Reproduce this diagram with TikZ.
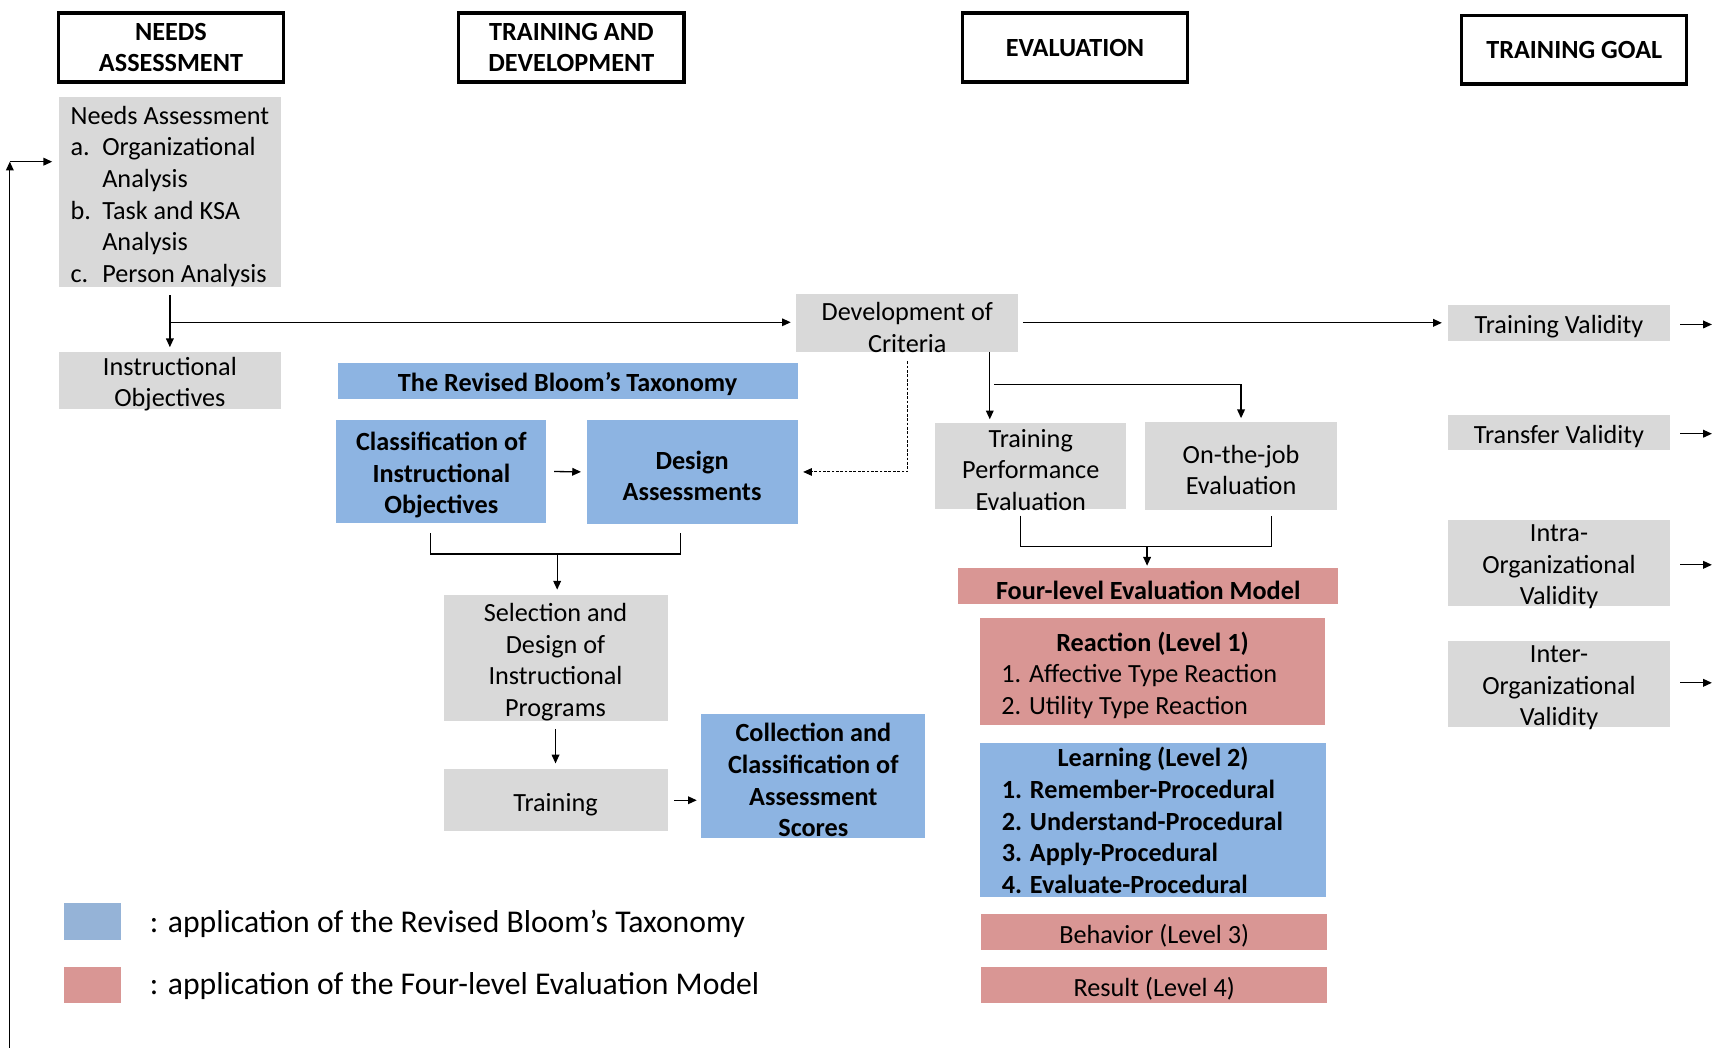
\documentclass[tikz,border=0pt]{standalone}
\usepackage{fontspec}
\setmainfont{Carlito}
\usetikzlibrary{arrows.meta}
\definecolor{boxgray}{HTML}{D9D9D9}
\definecolor{bloomblue}{HTML}{8DB4E2}
\definecolor{legendblue}{HTML}{95B3D7}
\definecolor{kirkred}{HTML}{D99694}
\newcommand{\bodyfont}{\fontsize{24}{29}\selectfont}
% tall invisible strut: sets the text of a box a little lower
\newcommand{\topstrut}{\rule{0pt}{24pt}}
\begin{document}
\begin{tikzpicture}[x=1pt,y=-1pt,
  every node/.style={inner sep=0pt, font=\bodyfont},
  lowered/.style={execute at begin node={\topstrut}},
  % text laid over a tightly fitted box, so that the box keeps its size
  overtext/.style={label={[align=center, yshift=-3.5pt]center:#1}},
  hdr/.style={draw=black, line width=3pt, fill=white, align=center,
    font=\bodyfont\bfseries, minimum width=206, minimum height=63},
  gbox/.style={fill=boxgray, align=center},
  bbox/.style={fill=bloomblue, align=center, font=\bodyfont\bfseries},
  rbox/.style={fill=kirkred, align=center},
  legtext/.style={anchor=west, font=\fontsize{29}{35}\selectfont,
    execute at begin node={\rule{0pt}{25pt}}},
  link/.style={line width=1.2pt},
  conn/.style={link, -{Triangle[length=8pt,width=7pt]}},
  dashconn/.style={conn, line width=0.9pt, dash pattern=on 2.5pt off 1.5pt},
]
\useasboundingbox (0,0) rectangle (1568,959);

% column headers
\node[hdr] (needsH) at (156.5,43.5) {NEEDS\\ASSESSMENT};
\node[hdr] (tdH)    at (523,43.5)   {TRAINING AND\\DEVELOPMENT};
\node[hdr] (evalH)  at (984,43.5) {EVALUATION};
\node[hdr] (goalH)  at (1441,45.5) {TRAINING GOAL};

% needs assessment column
\node[gbox, align=left, minimum width=203, minimum height=174] (needs) at (155.5,176)
  {\topstrut Needs Assessment\\
   \makebox[29pt][l]{a.}Organizational\\
   \hspace*{29pt}Analysis\\
   \makebox[29pt][l]{b.}Task and KSA\\
   \hspace*{29pt}Analysis\\
   \makebox[29pt][l]{c.}Person Analysis};
\node[gbox, minimum width=203, minimum height=52,
  overtext=Instructional\\Objectives] (instr) at (155.5,348) {};

% training and development column
\node[bbox, lowered, minimum width=421, minimum height=33] (bloom) at (519.5,348.5)
  {The Revised Bloom’s Taxonomy};
\node[bbox, minimum width=192, minimum height=95] (classif) at (404,431.5)
  {\topstrut Classification of\\Instructional\\Objectives};
\node[bbox, minimum width=193, minimum height=96] (design) at (633.5,432)
  {\topstrut Design\\Assessments};
\node[gbox, minimum width=205, minimum height=115] (sel) at (508.5,602.5)
  {\topstrut Selection and\\Design of\\Instructional\\Programs};
\node[gbox, lowered, minimum width=205, minimum height=57] (train) at (508.5,732.5)
  {Training};
\node[bbox, minimum width=205, minimum height=113] (collect) at (744.5,710.5)
  {\topstrut Collection and\\Classification of\\Assessment\\Scores};

% evaluation column
\node[gbox, minimum width=203, minimum height=52] (devcrit) at (830.5,296)
  {\topstrut Development of\\Criteria};
\node[gbox, minimum width=175, minimum height=79,
  overtext=Training\\Performance\\Evaluation] (tpe) at (943.5,426.5) {};
\node[gbox, minimum width=176, minimum height=81] (oje) at (1136,426.5)
  {\topstrut On-the-job\\Evaluation};
\node[rbox, lowered, font=\bodyfont\bfseries, minimum width=348, minimum height=33] (four) at (1051,536.5)
  {Four-level Evaluation Model};
\node[rbox, align=left, minimum width=316, minimum height=98] (react) at (1055,615)
  {\topstrut\makebox[277pt]{\bfseries Reaction (Level 1)}\\
   1. Affective Type Reaction\\
   2. Utility Type Reaction};
\node[bbox, align=left, minimum width=317, minimum height=141] (learn) at (1055.5,751)
  {\makebox[277pt]{Learning (Level 2)}\\
   1. Remember-Procedural\\
   2. Understand-Procedural\\
   3. Apply-Procedural\\
   4. Evaluate-Procedural};
\node[rbox, lowered, minimum width=317, minimum height=33] (behav) at (1056.5,853.5)
  {Behavior (Level 3)};
\node[rbox, lowered, minimum width=317, minimum height=33] (result) at (1056.5,901.5)
  {Result (Level 4)};

% training goal column
\node[gbox, lowered, minimum width=204, minimum height=33] (tval)  at (1427,295.5) {Training Validity};
\node[gbox, lowered, minimum width=204, minimum height=32] (trval) at (1427,396)   {Transfer Validity};
\node[gbox, minimum width=204, minimum height=79,
  overtext=Intra-\\Organizational\\Validity] (intra) at (1427,515.5) {};
\node[gbox, minimum width=204, minimum height=78,
  overtext=Inter-\\Organizational\\Validity] (inter) at (1427,626) {};

% legend
\node[fill=legendblue, minimum width=52, minimum height=33] (legB) at (85,843.5) {};
\node[fill=kirkred, minimum width=52, minimum height=33] (legR) at (85,901.5) {};
\node[legtext] (legBt) at (137,843) {: application of the Revised Bloom’s Taxonomy};
\node[legtext] (legRt) at (137,900) {: application of the Four-level Evaluation Model};

% auxiliary points for branching connectors
\coordinate (loopS) at (9,959);
\coordinate (loopN) at (9,148);
\coordinate (split) at (156,295);
\coordinate (edge) at (1567,0);
\coordinate (dcA) at (906,322);
\coordinate (dcB) at (910,352);
\coordinate (brL) at (394,488);
\coordinate (brR) at (623,488);
\coordinate (brM) at (510,507);
\coordinate (ebL) at (934,472);
\coordinate (ebR) at (1164,472);
\coordinate (ebM) at (1050,500);

% feedback loop back to needs assessment
\draw[conn] (loopS) -- (loopN);
\draw[conn, shorten >=6pt] (loopN) -- (needs.west |- loopN);

% needs assessment flow
\draw[conn, shorten <=7pt, shorten >=4pt] (needs.south) -- (instr.north);
\draw[conn, shorten >=5pt] (split) -- (devcrit.west |- split);

% development of criteria
\draw[conn, shorten <=4pt, shorten >=5pt] (devcrit.east |- tval.west) -- (tval.west);
\draw[conn, shorten >=3pt] (dcA) -- (dcA |- tpe.north);
\draw[conn, shorten >=3pt] (dcB) -- (dcB -| oje.north) -- (oje.north);
\draw[dashconn, shorten <=8pt, shorten >=5pt] (devcrit.south) -- (devcrit.south |- design.east) -- (design.east);

% training and development flow
\draw[conn, shorten <=7pt, shorten >=5pt] (classif.east) -- (design.west);
\draw[link] (brL) -- (brL |- brM) -- (brR |- brM) -- (brR);
\draw[conn, shorten >=5pt] (brM) -- (brM |- sel.north);
\draw[conn, shorten <=7pt, shorten >=5pt] (sel.south) -- (train.north);
\draw[conn, shorten <=6pt, shorten >=4pt] (train.east) -- (train.east -| collect.west);

% evaluation results into the four-level model
\draw[link] (ebL) -- (ebL |- ebM) -- (ebR |- ebM) -- (ebR);
\draw[conn, shorten >=2pt] (ebM) -- (ebM |- four.north);

% training goals pointing onward
\draw[conn, shorten <=9pt] ([yshift=-1.5pt]tval.east) -- ([yshift=-1.5pt]tval.east -| edge);
\draw[conn, shorten <=9pt] ([yshift=-1pt]trval.east) -- ([yshift=-1pt]trval.east -| edge);
\draw[conn, shorten <=9pt] ([yshift=-1.5pt]intra.east) -- ([yshift=-1.5pt]intra.east -| edge);
\draw[conn, shorten <=9pt] ([yshift=1pt]inter.east) -- ([yshift=1pt]inter.east -| edge);
\end{tikzpicture}
\end{document}
